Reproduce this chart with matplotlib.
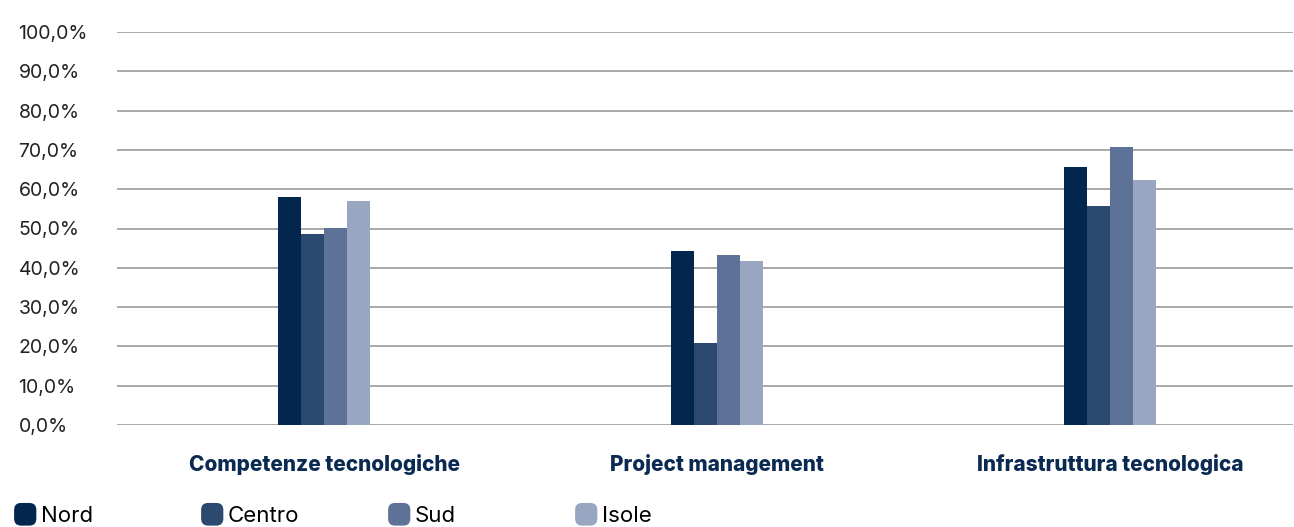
import matplotlib
matplotlib.use("Agg")
import matplotlib.pyplot as plt
import numpy as np
from matplotlib.patches import FancyBboxPatch
from matplotlib.legend_handler import HandlerPatch
from matplotlib.patches import Patch

categories = ["Competenze tecnologiche", "Project management", "Infrastruttura tecnologica"]
series_names = ["Nord", "Centro", "Sud", "Isole"]
nord = [58.0, 44.3, 65.6]
centro = [48.6, 20.9, 55.7]
sud = [50.1, 43.3, 70.7]
isole = [57.0, 41.7, 62.3]
yticks = [0, 10, 20, 30, 40, 50, 60, 70, 80, 90, 100]
ytick_labels = ["0,0%", "10,0%", "20,0%", "30,0%", "40,0%", "50,0%", "60,0%", "70,0%", "80,0%", "90,0%", "100,0%"]

colors = ["#03264f", "#2c4a6f", "#5e7196", "#99a6c2"]
series = [nord, centro, sud, isole]

plt.rcParams['font.family'] = ['Inter', 'DejaVu Sans']

fig = plt.figure(figsize=(12.94, 5.27), dpi=100)
ax = fig.add_axes([117/1294, 1-425/527, (1293-117)/1294, (425-32)/527])

x = np.arange(len(categories))
w = 0.0585
for i, (vals, c) in enumerate(zip(series, colors)):
    ax.bar(x + (i - 1.5) * w, vals, width=w, color=c, zorder=3, label=series_names[i])

ax.set_xlim(-0.527, 2.466)
ax.set_ylim(0, 100)
ax.set_yticks(yticks)
ax.set_yticklabels(ytick_labels, fontsize=14, color="#222222")
for lab in ax.get_yticklabels():
    lab.set_horizontalalignment('left')
ax.tick_params(axis='y', length=0, pad=71)
ax.set_xticks(x)
ax.set_xticklabels(categories, fontsize=15, fontweight='heavy', color="#0a2a52")
ax.tick_params(axis='x', length=0, pad=21)
ax.grid(axis='y', color="#a3a3a3", linewidth=1.3, zorder=0)
for s in ax.spines.values():
    s.set_visible(False)

class RoundHandler(HandlerPatch):
    def create_artists(self, legend, orig_handle, xdescent, ydescent, width, height, fontsize, trans):
        p = FancyBboxPatch((-xdescent, -ydescent - 1), width, height + 2,
                           boxstyle="round,pad=0,rounding_size=5",
                           facecolor=orig_handle.get_facecolor(), edgecolor='none', transform=trans)
        return [p]

starts = [13, 200, 387, 574]
for name, c, sx in zip(series_names, colors, starts):
    h = Patch(facecolor=c)
    fig.legend(handles=[h], labels=[name], loc='lower left',
               bbox_to_anchor=(sx/1294, 0.0), frameon=False,
               handler_map={Patch: RoundHandler()}, handlelength=1.0, handleheight=1.0,
               handletextpad=0.2, fontsize=16, borderpad=0.05, borderaxespad=0)

fig.savefig("out.png", dpi=100)
